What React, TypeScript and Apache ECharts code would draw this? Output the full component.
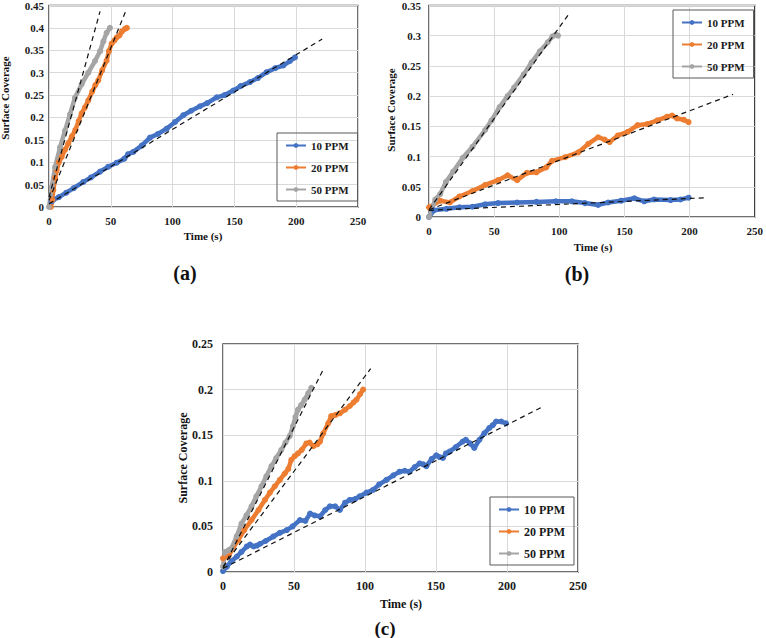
import React, { useEffect, useRef } from "react";
import * as echarts from "echarts";

// panel (a)
const a10: [number, number][] = [
  [2, 0.012], [3.5, 0.016], [8, 0.022], [14, 0.032], [20, 0.042], [27.8, 0.056], [34, 0.066],
  [41.3, 0.079], [48, 0.09], [54.8, 0.099], [61, 0.108], [64, 0.118], [68.2, 0.123], [75, 0.137],
  [81.7, 0.155], [88, 0.163], [95.2, 0.175], [102, 0.19], [108.7, 0.205], [115, 0.215],
  [122.2, 0.225], [128, 0.232], [135.7, 0.245], [142, 0.25], [149.1, 0.26], [155, 0.27],
  [162.6, 0.279], [169, 0.288], [176.1, 0.301], [183, 0.31], [189.6, 0.316], [195, 0.326], [199, 0.334],
];
const a20: [number, number][] = [
  [1.5, 0], [2.7, 0.016], [3.5, 0.038], [5, 0.065], [6.2, 0.082], [8, 0.1], [10.3, 0.112], [13, 0.128],
  [15.6, 0.142], [18.5, 0.158], [21.3, 0.172], [24, 0.192], [26.4, 0.209], [29, 0.222], [31.8, 0.238],
  [35, 0.258], [37.5, 0.272], [39.9, 0.283], [43, 0.305], [46.6, 0.327], [48.5, 0.348], [50.7, 0.365],
  [53, 0.372], [54.8, 0.379], [57, 0.383], [59, 0.392], [61.5, 0.398], [63, 0.4],
];
const a50: [number, number][] = [
  [0, 0], [2.2, 0.044], [4.9, 0.089], [8.9, 0.133], [12.9, 0.17], [17, 0.207], [21, 0.244],
  [26.4, 0.274], [31.8, 0.3], [37.2, 0.326], [41.3, 0.348], [44, 0.37], [46.6, 0.389], [49.3, 0.4],
];
const aFit10: [number, number][] = [[0, 0.007], [221, 0.375]];
const aFit20: [number, number][] = [[0, 0.015], [62, 0.437]];
const aFit50: [number, number][] = [[0, 0.022], [41.3, 0.437]];

// panel (b)
const b10: [number, number][] = [
  [0, 0], [3.7, 0.011], [13.5, 0.0136], [23.4, 0.016], [33.3, 0.017], [43.1, 0.021], [53, 0.023],
  [67.7, 0.024], [82.5, 0.025], [97.3, 0.026], [109.6, 0.026], [119.7, 0.023], [129.8, 0.02],
  [137.4, 0.024], [147.5, 0.027], [157.6, 0.031], [165.2, 0.026], [172.7, 0.029], [185.4, 0.028],
  [193, 0.029], [199.2, 0.032],
];
const b20: [number, number][] = [
  [0, 0.016], [8.6, 0.027], [16, 0.024], [23.4, 0.034], [33.3, 0.043], [43.1, 0.053], [53, 0.061],
  [60.3, 0.069], [67.7, 0.061], [75.1, 0.073], [82.5, 0.074], [89.9, 0.082], [94.4, 0.093],
  [104.5, 0.099], [114.6, 0.107], [122.2, 0.121], [129.8, 0.132], [134.8, 0.128], [138.6, 0.124],
  [145, 0.135], [152.5, 0.141], [160.1, 0.152], [167.7, 0.154], [175.3, 0.16], [182.8, 0.166],
  [186.6, 0.168], [190.4, 0.163], [195.5, 0.161], [199.2, 0.157],
];
const b50: [number, number][] = [
  [0, 0], [4.8, 0.029], [8.6, 0.038], [13, 0.058], [18.5, 0.075], [25.9, 0.098], [33.3, 0.116],
  [43.1, 0.144], [48, 0.16], [54.2, 0.182], [60.3, 0.2], [65.3, 0.214], [72.7, 0.236], [78.8, 0.256],
  [85, 0.274], [91.1, 0.289], [94.8, 0.299], [97.3, 0.302], [99, 0.3],
];
const bFit10: [number, number][] = [[0, 0.011], [213.6, 0.032]];
const bFit20: [number, number][] = [[0, 0.012], [233.3, 0.203]];
const bFit50: [number, number][] = [[0, 0.012], [106.7, 0.334]];

// panel (c)
const c10: [number, number][] = [
  [0, 0.001], [2.8, 0.006], [6, 0.012], [9.8, 0.017], [13, 0.022], [16.8, 0.028], [19, 0.03],
  [21.5, 0.028], [24, 0.029], [26.2, 0.031], [30, 0.034], [35.5, 0.039], [40, 0.043], [44.9, 0.046],
  [49, 0.05], [54.2, 0.057], [58, 0.056], [61.3, 0.064], [64.5, 0.062], [68.3, 0.061], [72, 0.068],
  [75.3, 0.072], [79, 0.072], [82.3, 0.068], [86, 0.076], [89.3, 0.079], [93, 0.08], [96.3, 0.083],
  [101, 0.087], [105.7, 0.09], [110, 0.096], [115.1, 0.101], [120, 0.106], [124.4, 0.11],
  [128, 0.111], [131.4, 0.11], [135, 0.115], [138.5, 0.119], [141, 0.118], [143.2, 0.116],
  [147, 0.124], [150.2, 0.128], [152.5, 0.126], [154.9, 0.125], [157, 0.13], [159.5, 0.132],
  [164, 0.137], [168.8, 0.143], [171, 0.145], [174, 0.141], [177, 0.136], [180.6, 0.145],
  [184, 0.152], [187.6, 0.158], [190, 0.161], [192.3, 0.165], [196, 0.165], [199.3, 0.163],
];
const c20: [number, number][] = [
  [0, 0.015], [3.7, 0.017], [7, 0.026], [10.7, 0.035], [15, 0.046], [20.1, 0.057], [25, 0.068],
  [29.5, 0.079], [33, 0.087], [36.5, 0.094], [40, 0.101], [43.5, 0.108], [46, 0.113], [48.1, 0.123],
  [50.5, 0.127], [52.8, 0.13], [55.5, 0.134], [58.7, 0.141], [61, 0.142], [63.6, 0.138], [66.5, 0.14],
  [68.3, 0.143], [70.6, 0.152], [74.1, 0.163], [76.2, 0.171], [79, 0.172], [82.3, 0.174], [86, 0.178],
  [89.3, 0.182], [92, 0.186], [94, 0.189], [96.5, 0.195], [98.7, 0.2],
];
const c50: [number, number][] = [
  [0, 0.006], [1.4, 0.022], [4, 0.024], [6, 0.026], [9.6, 0.039], [13, 0.053], [16.5, 0.062],
  [20.1, 0.072], [23.5, 0.083], [27.1, 0.094], [30.5, 0.105], [34.1, 0.116], [37.5, 0.125],
  [41.1, 0.134], [44, 0.142], [47, 0.149], [49.3, 0.16], [51, 0.17], [52.8, 0.178], [55, 0.183],
  [57.5, 0.189], [60, 0.196], [62.2, 0.202],
];
const cFit10: [number, number][] = [[0, 0.004], [226.2, 0.182]];
const cFit20: [number, number][] = [[0, 0.006], [104, 0.223]];
const cFit50: [number, number][] = [[0, 0.004], [70.6, 0.222]];

const seriesNames = ["10 PPM", "20 PPM", "50 PPM"];
const colors = ["#4472C4", "#ED7D31", "#A5A5A5"];
const xTicks = { min: 0, max: 250, interval: 50 };
const yMax = [0.45, 0.35, 0.25];

const FONT = "Liberation Serif";

const App = () => {
  const chartRef = useRef<HTMLDivElement>(null);

  useEffect(() => {
    if (!chartRef.current) return;
    const chart = echarts.init(chartRef.current, null, { renderer: "svg" });

    const grids = [
      { left: 49, top: 5, width: 309, height: 202 },
      { left: 429, top: 5, width: 328, height: 212 },
      { left: 223, top: 344, width: 355, height: 228 },
    ];
    const tickFont = [11, 11, 12];
    const xMargin = [8, 8, 8];
    const yMargin = [5, 8, 10];

    const dataSets = [
      [a10, a20, a50],
      [b10, b20, b50],
      [c10, c20, c50],
    ];
    const fitSets = [
      [aFit10, aFit20, aFit50],
      [bFit10, bFit20, bFit50],
      [cFit10, cFit20, cFit50],
    ];

    const series: any[] = [];
    dataSets.forEach((set, g) => {
      set.forEach((d, i) => {
        series.push({
          name: seriesNames[i],
          type: "line",
          xAxisIndex: g,
          yAxisIndex: g,
          data: d,
          color: colors[i],
          symbol: "circle",
          symbolSize: 6,
          lineStyle: { width: 4.5, color: colors[i] },
          itemStyle: { color: colors[i] },
          z: 2,
        });
      });
      fitSets[g].forEach((d) => {
        series.push({
          name: "fit",
          type: "line",
          xAxisIndex: g,
          yAxisIndex: g,
          data: d,
          symbol: "none",
          lineStyle: { width: 1.2, color: "#111", type: [5, 4] },
          z: 5,
        });
      });
    });

    const legendBoxes = [
      { left: 277, top: 133, fs: 11 },
      { left: 673, top: 10, fs: 11 },
      { left: 490, top: 497, fs: 12 },
    ];

    const txt = (text: string, x: number, y: number, fs: number, rot = 0) => ({
      type: "text",
      x,
      y,
      rotation: rot,
      style: {
        text,
        fontFamily: FONT,
        fontWeight: "bold",
        fontSize: fs,
        fill: "#111",
        textAlign: "center",
        textVerticalAlign: "middle",
      },
    });

    const option: any = {
      animation: false,
      textStyle: { fontFamily: FONT },
      grid: grids.map((g) => ({
        ...g,
        show: true,
        borderColor: "#404040",
        borderWidth: 1.5,
        containLabel: false,
      })),
      xAxis: grids.map((_, g) => ({
        type: "value",
        gridIndex: g,
        ...xTicks,
        axisLine: { show: false },
        axisTick: { show: false },
        splitLine: { show: true, lineStyle: { color: "#d9d9d9", width: 1 } },
        axisLabel: {
          fontFamily: FONT,
          fontWeight: "bold",
          fontSize: tickFont[g],
          color: "#1a1a1a",
          margin: xMargin[g],
        },
      })),
      yAxis: grids.map((_, g) => ({
        type: "value",
        gridIndex: g,
        min: 0,
        max: yMax[g],
        interval: 0.05,
        axisLine: { show: false },
        axisTick: { show: false },
        splitLine: { show: true, lineStyle: { color: "#d9d9d9", width: 1 } },
        axisLabel: {
          fontFamily: FONT,
          fontWeight: "bold",
          fontSize: tickFont[g],
          color: "#1a1a1a",
          margin: yMargin[g],
        },
      })),
      legend: legendBoxes.map((b) => ({
        data: seriesNames,
        orient: "vertical",
        left: b.left,
        top: b.top,
        itemWidth: 20,
        itemHeight: 6,
        itemGap: 9,
        padding: [6, 9, 5, 8],
        borderColor: "#595959",
        borderWidth: 1,
        selectedMode: false,
        textStyle: {
          fontFamily: FONT,
          fontWeight: "bold",
          fontSize: b.fs,
          color: "#1a1a1a",
          lineHeight: 13,
        },
      })),
      graphic: [
        txt("Surface Coverage", 5, 98, 11, Math.PI / 2),
        txt("Surface Coverage", 391, 110, 11, Math.PI / 2),
        txt("Surface Coverage", 183, 458, 12, Math.PI / 2),
        txt("Time (s)", 203, 236, 11),
        txt("Time (s)", 593, 247, 11),
        txt("Time (s)", 401, 604, 12),
        txt("(a)", 185, 273, 20),
        txt("(b)", 577, 274, 20),
        txt("(c)", 385, 628, 19),
      ],
      series,
    };

    chart.setOption(option);
    return () => chart.dispose();
  }, []);

  return (
    <div
      ref={chartRef}
      style={{ position: "absolute", left: 0, top: 0, width: "766px", height: "638px", background: "#fff" }}
    />
  );
};

export default App;
